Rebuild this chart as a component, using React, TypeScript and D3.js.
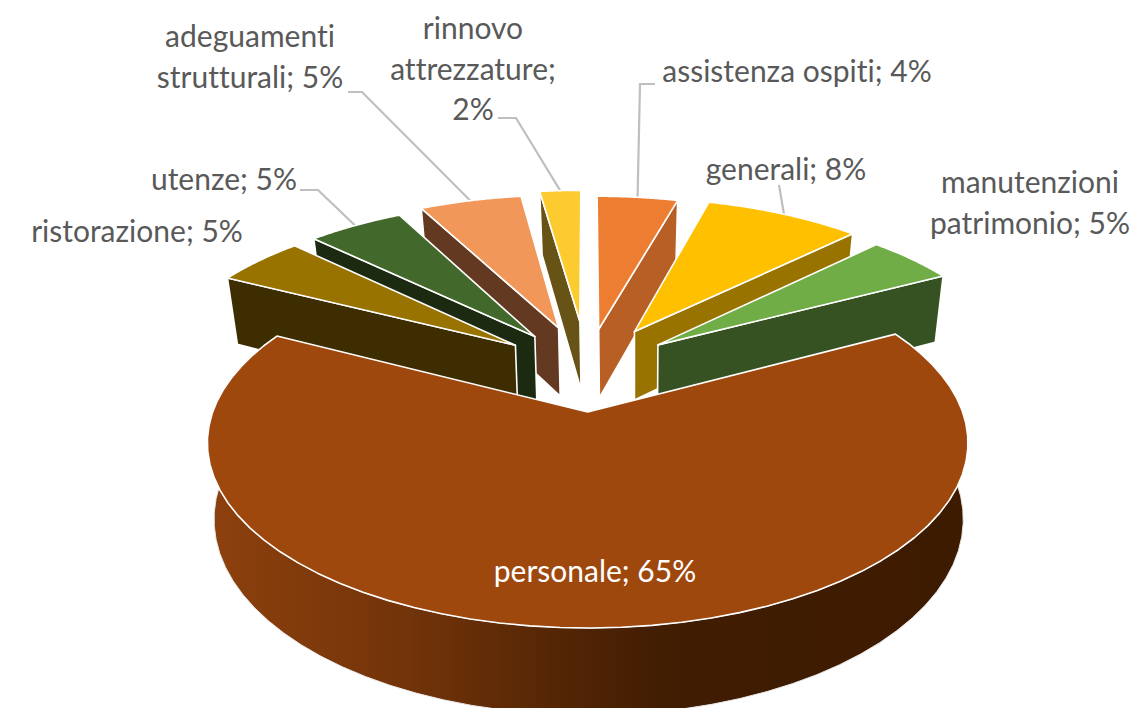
import React from "react";
import * as d3 from "d3";

const categories = ["assistenza ospiti", "generali", "manutenzioni patrimonio", "personale", "ristorazione", "utenze", "adeguamenti strutturali", "rinnovo attrezzature"];
const shares = [4.3, 8.3, 4.68, 65.22, 4.75, 5.1, 5.45, 2.2];
const shownPercent = [4, 8, 5, 65, 5, 5, 5, 2];
const topColors = ["#ED7D31", "#FFC000", "#70AD47", "#9E480E", "#997300", "#43682B", "#F1975A", "#FBCB2F"];
const wallColors = ["#B85F26", "#997300", "#365222", "#9E480E", "#3D2D00", "#1B2A11", "#633A21", "#675315"];
const explode = [0.25, 0.27, 0.25, 0.25, 0.25, 0.25, 0.27, 0.3];
// back to front painting order, personale last
const paintOrder = [7, 0, 6, 1, 5, 2, 4, 3];
const wallEdge = ["end", "end", "end", "none", "start", "start", "start", "start"];

const labelLines = [
  ["assistenza ospiti; 4%"],
  ["generali; 8%"],
  ["manutenzioni", "patrimonio; 5%"],
  ["personale; 65%"],
  ["ristorazione; 5%"],
  ["utenze; 5%"],
  ["adeguamenti", "strutturali; 5%"],
  ["rinnovo", "attrezzature;", "2%"],
];
const labelX = [797, 786, 1030, 595, 137, 224, 250, 473];
const labelY = [82, 180, 193, 582, 242, 190, 47, 39];
const lineGap = 40.5;
// leader: elbow then end of the line next to the label
const leaders: (number[][] | null)[] = [
  [[640, 84], [655, 84]],
  [[779, 185]],
  null,
  null,
  null,
  [[318, 190], [300, 190]],
  [[362, 92], [348, 92]],
  [[516, 118], [498, 118]],
];

const top = { cx: 587, cy: 368.8, rx: 360, ry: 165.9, k: 0.16 };
const bottom = { cx: 588, cy: 439, rx: 353, ry: 174, k: 0.17 };
type Plane = typeof top;

const project = (p: Plane, angle: number, r: number, mid: number, e: number): [number, number] => {
  const u = e * Math.sin(mid) + r * Math.sin(angle);
  const v = -e * Math.cos(mid) - r * Math.cos(angle);
  const s = 1 / (1 - p.k * v);
  return [p.cx + p.rx * u * s, p.cy + p.ry * v * s];
};

const arcs = d3.pie<number>().sort(null).value((d) => d)(shares);
const sideColor = d3.scaleLinear<string>().domain([0, 0.25, 0.5, 0.62, 1]).range(["#8C400D", "#733409", "#4E2304", "#3F1C02", "#3D1B00"]);
const line = d3.line();
const stops = d3.range(0, 1.001, 0.05);

export default function App() {
  const slices = paintOrder.map((i) => {
    const a = arcs[i];
    const mid = (a.startAngle + a.endAngle) / 2;
    const e = explode[i];
    const arcAngles = d3.range(0, 61).map((t) => a.startAngle + ((a.endAngle - a.startAngle) * t) / 60);
    const apex = project(top, 0, 0, mid, e);
    const face = [apex, ...arcAngles.map((t) => project(top, t, 1, mid, e))];
    let wall: [number, number][] | null = null;
    if (wallEdge[i] !== "none") {
      const edge = wallEdge[i] === "end" ? a.endAngle : a.startAngle;
      wall = [apex, project(top, edge, 1, mid, e), project(bottom, edge, 1, mid, e), project(bottom, 0, 0, mid, e)];
    }
    const side = i === 3 ? [...arcAngles.map((t) => project(bottom, t, 1, mid, e)), ...arcAngles.slice().reverse().map((t) => project(top, t, 1, mid, e))] : null;
    return { i, face, wall, side };
  });

  return (
    <svg width={1135} height={708} style={{ position: "absolute", left: 0, top: 0, background: "#fff" }}>
      <defs>
        <linearGradient id="rim" gradientUnits="userSpaceOnUse" x1={216} x2={962} y1={0} y2={0}>
          {stops.map((t) => (
            <stop key={t} offset={t} stopColor={sideColor(t)} />
          ))}
        </linearGradient>
      </defs>
      {labelLines.map((_, i) => {
        const path = leaders[i];
        if (!path) return null;
        const a = arcs[i];
        const mid = (a.startAngle + a.endAngle) / 2;
        const rim = project(top, mid, 1, mid, explode[i]);
        return <path key={i} d={line([rim, ...(path as [number, number][])]) || ""} fill="none" stroke="#BFBFBF" strokeWidth={2.2} />;
      })}
      {slices.map((s) => (
        <g key={s.i} stroke="#fff" strokeWidth={1.6} strokeLinejoin="round">
          {s.side && <path d={(line(s.side) || "") + "Z"} fill="url(#rim)" stroke="#E8E8E8" strokeWidth={1} />}
          {s.wall && <path d={(line(s.wall) || "") + "Z"} fill={wallColors[s.i]} />}
          <path d={(line(s.face) || "") + "Z"} fill={topColors[s.i]} />
        </g>
      ))}
      {labelLines.map((lines, i) => (
        <text
          key={categories[i]}
          data-percent={shownPercent[i]}
          textAnchor="middle"
          fontFamily="Lato, 'Open Sans', sans-serif"
          fontSize={30}
          style={{ fontVariantLigatures: "none" }}
          fill={i === 3 ? "#FFFFFF" : "#595959"}
        >
          {lines.map((l, j) => (
            <tspan key={j} x={labelX[i]} y={labelY[i] + j * lineGap}>
              {l}
            </tspan>
          ))}
        </text>
      ))}
    </svg>
  );
}
